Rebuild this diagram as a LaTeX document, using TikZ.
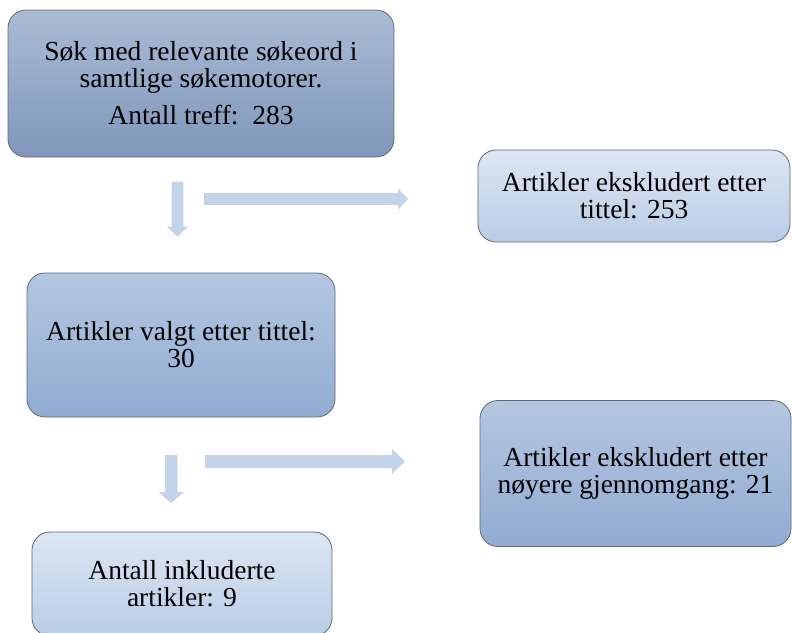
\documentclass[tikz,border=0pt]{standalone}
\usepackage{fontspec}
\setmainfont{Liberation Serif}

\definecolor{boxline}{HTML}{5E6875}
\definecolor{darktop}{HTML}{AABBD4}
\definecolor{darkbottom}{HTML}{7F97BB}
\definecolor{midtop}{HTML}{B5C7E0}
\definecolor{midbottom}{HTML}{91ABD2}
\definecolor{lighttop}{HTML}{DDE6F2}
\definecolor{lightbottom}{HTML}{B9CCE6}
\definecolor{flowblue}{HTML}{C3D3EA}

\begin{document}
\begin{tikzpicture}[x=1pt, y=-1pt,
  darkbox/.style={rectangle, rounded corners=18pt, draw=boxline, line width=0.8pt,
    top color=darktop, bottom color=darkbottom, align=center, inner sep=0pt,
    font=\fontsize{27.5}{27}\selectfont},
  midbox/.style={darkbox, top color=midtop, bottom color=midbottom},
  lightbox/.style={darkbox, top color=lighttop, bottom color=lightbottom},
  flow/.style={fill=flowblue}]

  \useasboundingbox (0,0) rectangle (792,632);

  % Left column
  \node[darkbox, minimum width=386, minimum height=147] (search) at (201,83.5)
    {Søk med relevante søkeord i\\samtlige søkemotorer.\\[10pt]Antall treff:~~283};
  \node[midbox, minimum width=308, minimum height=144] (chosen) at (181,345)
    {Artikler valgt etter tittel:\\30};
  \node[lightbox, minimum width=300, minimum height=104] (included) at (182,584)
    {Antall inkluderte\\artikler: 9};

  % Right column
  \node[lightbox, minimum width=312, minimum height=92] (extitle) at (634,196)
    {Artikler ekskludert etter\\tittel: 253};
  \node[midbox, minimum width=311, minimum height=146] (exreview) at (635.5,473.5)
    {Artikler ekskludert etter\\nøyere gjennomgang: 21};

  % Arrows, first step
  \fill[flow] (171.7,181.5) -- (183.3,181.5) -- (183.3,226.7) -- (188,226.7)
    -- (177.5,236.7) -- (167,226.7) -- (171.7,226.7) -- cycle;
  \fill[flow] (204,193.2) -- (398,193.2) -- (398,188.3) -- (408,199)
    -- (398,209.7) -- (398,204.8) -- (204,204.8) -- cycle;

  % Arrows, second step
  \fill[flow] (165,455) -- (177.3,455) -- (177.3,492) -- (184,492)
    -- (171.2,503) -- (158.3,492) -- (165,492) -- cycle;
  \fill[flow] (205,455) -- (392,455) -- (392,449) -- (405,461.5)
    -- (392,474) -- (392,468) -- (205,468) -- cycle;

\end{tikzpicture}
\end{document}
